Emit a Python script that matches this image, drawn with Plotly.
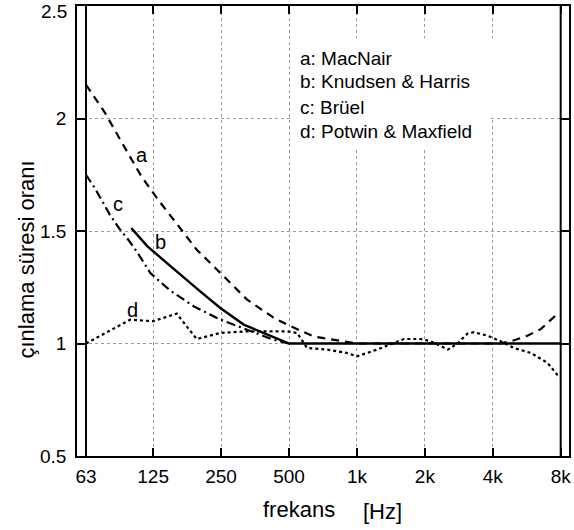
import plotly.graph_objects as go

# ---------------- data ----------------
tick_vals = [63, 125, 250, 500, 1000, 2000, 4000, 8000]
tick_text = ["63", "125", "250", "500", "1k", "2k", "4k", "8k"]
y_ticks = [0.5, 1.0, 1.5, 2.0, 2.5]
y_tick_text = ["0.5", "1", "1.5", "2", ""]
top_label = "2.5"

# a: MacNair (dashed)
a_freq = [63, 76.5, 92, 111, 129.5, 159.5, 195, 248.5, 326, 427, 490, 643, 848, 1000,
          2000, 4000, 4300, 4900, 5700, 6550, 7350, 7700]
a_val = [2.15, 2.025, 1.883, 1.742, 1.648, 1.528, 1.417, 1.313, 1.195, 1.115, 1.084, 1.031, 1.01, 1.0,
         1.0, 1.0, 1.0, 1.012, 1.035, 1.065, 1.11, 1.13]

# b: Knudsen & Harris (solid)
b_freq = [100, 118, 138, 165, 202, 248, 315, 385, 500, 8000]
b_val = [1.513, 1.432, 1.373, 1.306, 1.232, 1.158, 1.084, 1.047, 1.0, 1.0]

# c: Brüel (dash-dot)
c_freq = [63, 68.9, 75.2, 80.4, 89.2, 97, 105.7, 121.5, 148.4, 189.3, 248.5, 326, 426, 500]
c_val = [1.75, 1.691, 1.624, 1.572, 1.506, 1.461, 1.409, 1.313, 1.236, 1.165, 1.106, 1.062, 1.017, 1.0]

# d: Potwin & Maxfield (dotted)
d_freq = [63, 99, 125, 159, 176, 195, 248, 326, 490, 543, 601, 738, 905, 1000, 1231, 1455, 1615,
          1915, 2121, 2535, 2788, 3089, 3297, 3788, 4339, 4963, 5903, 6993, 7736, 8000]
d_val = [1.0, 1.106, 1.099, 1.133, 1.076, 1.02, 1.047, 1.054, 1.054, 1.047, 0.98, 0.973, 0.958, 0.943,
         0.973, 1.0, 1.02, 1.02, 1.01, 0.973, 1.0, 1.044, 1.05, 1.035, 1.01, 0.98, 0.958, 0.914, 0.86, 0.85]

legend_lines = ["a: MacNair", "b: Knudsen &amp; Harris", "c: Brüel", "d: Potwin &amp; Maxfield"]

FONT = "Liberation Sans, Arial, Helvetica, sans-serif"

fig = go.Figure()

# inner frame lines at 63 Hz and 8 kHz
for f in (63, 8000):
    fig.add_trace(go.Scatter(x=[f, f], y=[0.5, 2.5], mode="lines",
                             line=dict(color="black", width=2), cliponaxis=False,
                             showlegend=False, hoverinfo="skip"))

fig.add_trace(go.Scatter(x=a_freq, y=a_val, mode="lines", line=dict(color="black", width=2.2, dash="8px,6px"),
                         showlegend=False))
fig.add_trace(go.Scatter(x=c_freq, y=c_val, mode="lines",
                         line=dict(color="black", width=2.2, dash="9px,4px,2px,4px"), showlegend=False))
fig.add_trace(go.Scatter(x=d_freq, y=d_val, mode="lines", line=dict(color="black", width=2.2, dash="3px,3px"),
                         showlegend=False))
fig.add_trace(go.Scatter(x=b_freq, y=b_val, mode="lines", line=dict(color="black", width=2.4),
                         showlegend=False, cliponaxis=False))

grid = dict(showgrid=True, gridcolor="#9a9a9a", gridwidth=1, griddash="dot", zeroline=False,
            showline=True, linecolor="black", linewidth=1.5, mirror="ticks", automargin=False,
            ticks="inside", tickcolor="black", tickwidth=2, ticklabeloverflow="allow",
            tickfont=dict(family=FONT, size=19, color="black"))

fig.update_xaxes(type="log", range=[1.7594, 3.9399], tickmode="array", tickvals=tick_vals,
                 ticktext=tick_text, ticklen=8, ticklabelstandoff=2, **grid)
fig.update_yaxes(range=[0.5, 2.5], tickmode="array", tickvals=y_ticks, ticktext=y_tick_text,
                 ticklen=9.5, ticklabelstandoff=5, **grid)

# white area behind the key
fig.add_shape(type="rect", xref="paper", yref="paper", x0=0.433, x1=0.849, y0=0.751, y1=0.929,
              fillcolor="white", line_width=0, layer="above")
fig.add_shape(type="rect", xref="paper", yref="paper", x0=0.433, x1=0.835, y0=0.684, y1=0.753,
              fillcolor="white", line_width=0, layer="above")

ann = []
# top y tick label kept fully inside the page
ann.append(dict(text=top_label, xref="paper", yref="paper", x=(68 - 77) / 492, y=456 / 450,
                xanchor="right", yanchor="top", showarrow=False, borderpad=0,
                font=dict(family=FONT, size=19, color="black")))

key_y = [58.3, 81.7, 107.3, 131.7]
for txt, py in zip(legend_lines, key_y):
    ann.append(dict(text=txt, xref="paper", yref="paper", x=0.4492, y=(456 - py) / 450,
                    xanchor="left", yanchor="middle", showarrow=False,
                    font=dict(family=FONT, size=19, color="black")))

for lab, px, py in [("a", 142, 155), ("c", 118.3, 204), ("b", 160, 241.7), ("d", 132.3, 310)]:
    ann.append(dict(text=lab, xref="paper", yref="paper", x=(px - 77) / 492, y=(456 - py) / 450,
                    xanchor="center", yanchor="middle", showarrow=False,
                    font=dict(family=FONT, size=20, color="black")))

ann.append(dict(text="frekans", xref="paper", yref="paper", x=(298.5 - 77) / 492, y=(456 - 509) / 450,
                xanchor="center", yanchor="middle", showarrow=False,
                font=dict(family=FONT, size=22, color="black")))
ann.append(dict(text="[Hz]", xref="paper", yref="paper", x=(382.5 - 77) / 492, y=(456 - 511) / 450,
                xanchor="center", yanchor="middle", showarrow=False,
                font=dict(family=FONT, size=22, color="black")))
ann.append(dict(text="çınlama süresi oranı", xref="paper", yref="paper", x=(25.5 - 77) / 492,
                y=(456 - 260) / 450, xanchor="center", yanchor="middle", textangle=-90, showarrow=False,
                font=dict(family=FONT, size=22, color="black")))

fig.update_layout(width=574, height=530, margin=dict(l=77, r=5, t=6, b=74, autoexpand=False),
                  paper_bgcolor="white", plot_bgcolor="white", annotations=ann,
                  font=dict(family=FONT, color="black"))

fig.write_html("out.html")
